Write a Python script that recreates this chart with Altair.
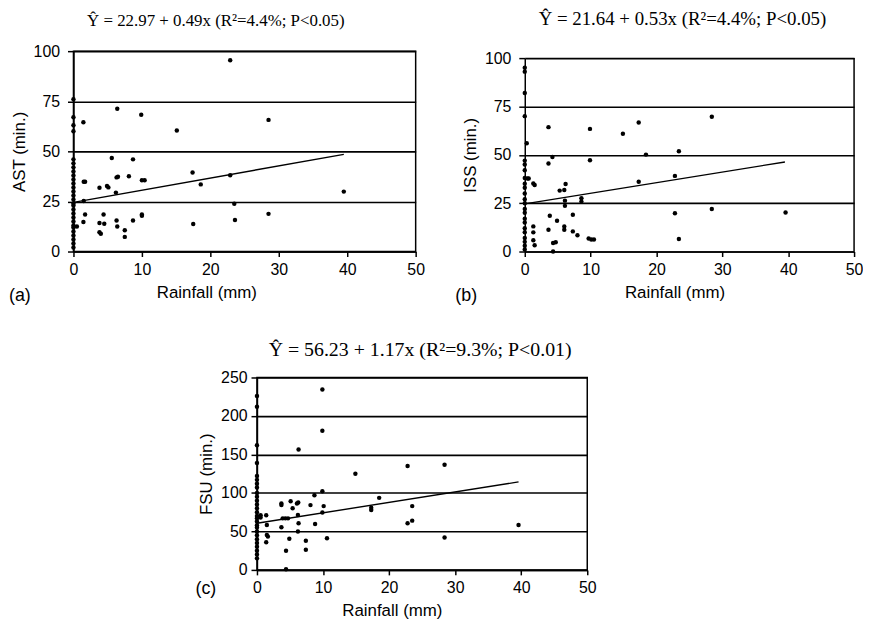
import altair as alt
import pandas as pd

RAIN_TICKS = [0, 10, 20, 30, 40, 50]

# ---------------- Panel (a): AST (min.) vs Rainfall (mm)
a_rain = [0, 0, 0, 0, 0, 0, 0, 0, 0, 0, 0, 0, 0, 0, 0, 0, 0, 0, 0, 0, 0, 0, 0, 0, 0, 0, 0, 0,
          1.45, 6.4, 9.9, 15.1, 5.6, 8.7, 1.5, 1.7, 3.8, 4.9, 5.1, 6.3, 6.5, 8.1, 10.0, 10.4,
          6.2, 17.4, 18.6, 1.5, 1.7, 1.45, 4.4, 3.8, 4.5, 3.8, 4.0, 6.3, 6.4, 7.5, 7.5, 8.7,
          10.0, 10.0, 17.5, 0.5, 22.9, 28.5, 22.9, 23.5, 23.6, 28.5, 39.5]
a_ast = [76, 67, 63, 60, 46, 44, 42, 40, 38, 36, 34, 32, 30, 28, 26, 24, 23, 21, 19, 17, 15, 13, 12, 10, 8, 6, 4, 2,
         64.5, 71.3, 68.3, 60.4, 46.7, 46.0, 34.8, 34.8, 31.8, 32.7, 32.0, 37.0, 37.3, 37.6, 35.6, 35.6,
         29.4, 39.4, 33.5, 25.2, 18.5, 14.7, 18.5, 14.2, 13.9, 9.6, 8.9, 15.5, 12.5, 10.6, 7.3, 15.5,
         18.5, 17.8, 13.7, 12.5, 95.5, 65.7, 38.1, 23.8, 15.7, 18.8, 29.9]
a_fit_x = [0, 39.5]
a_fit_y = [24.5, 48.5]

# ---------------- Panel (b): ISS (min.) vs Rainfall (mm)
b_rain = [0, 0, 0, 0, 0, 0, 0, 0, 0, 0, 0, 0, 0, 0, 0, 0, 0, 0, 0, 0, 0, 0, 0,
          0.3, 0.4, 0.6, 1.3, 1.5, 1.3, 1.3, 1.3, 1.5, 3.6, 3.6, 4.2, 3.8, 3.6, 4.3, 4.7, 4.3,
          4.9, 5.3, 6.0, 6.2, 6.0, 6.0, 6.1, 6.1, 7.3, 7.3, 8.0, 8.6, 8.6, 9.9, 9.9, 9.7, 10.1,
          10.5, 14.9, 17.3, 17.3, 18.4, 28.4, 23.4, 22.8, 22.8, 28.4, 23.4, 39.6]
b_iss = [95, 93, 82, 70, 47, 45, 42, 38, 35, 33, 30, 27, 25, 22, 20, 17, 15, 12, 10, 7, 5, 3, 1,
         56, 37.8, 37.8, 35.2, 34.4, 13, 9.9, 5.8, 3.2, 64.3, 45.5, 48.9, 18.5, 11.3, 4.4, 4.8, 0,
         15.9, 31.5, 31.8, 34.9, 13, 11.3, 23.6, 26.3, 19, 10.4, 8.4, 27.5, 25.8, 63.4, 47.2, 6.7, 6.2,
         6.2, 60.9, 66.7, 36.1, 50.1, 69.7, 51.8, 39.1, 19.8, 22, 6.5, 20.2]
b_fit_x = [0, 39.5]
b_fit_y = [24.6, 46.3]

# ---------------- Panel (c): FSU (min.) vs Rainfall (mm)
c_rain = [0, 0, 0, 0, 0, 0, 0, 0, 0, 0, 0, 0, 0, 0, 0, 0, 0, 0, 0, 0, 0, 0, 0, 0, 0, 0, 0,
          0.55, 0.55, 1.4, 1.5, 1.5, 1.65, 1.4, 3.7, 3.7, 3.9, 3.7, 4.4, 4.4, 4.3, 4.7, 4.9,
          5.1, 5.4, 6.05, 6.25, 6.2, 6.3, 6.3, 6.2, 7.4, 7.4, 8.1, 8.7, 8.8, 9.9, 9.9, 9.9,
          10.1, 9.9, 10.6, 14.9, 17.3, 17.3, 18.5, 22.8, 28.4, 23.5, 22.8, 23.5, 28.4, 39.6]
c_fsu = [226, 212, 162, 139, 122, 117, 112, 107, 100, 95, 90, 85, 80, 75, 70, 67, 63, 58, 55, 50, 45, 40, 35, 30, 25, 20, 15,
         71, 68, 71, 58.4, 45.5, 43.4, 36, 86.3, 84.2, 67, 55.4, 25, 0.9, 67, 67, 40.4,
         89.3, 80, 86.3, 87.6, 71.3, 156.4, 60.6, 49.8, 37.8, 26.2, 84.2, 97, 59.7, 234.5, 180.8, 102.2,
         82.9, 74.7, 41.2, 125, 80.8, 77.7, 93.6, 134.9, 136.6, 82.9, 60.6, 64, 42.1, 58.4]
c_fit_x = [0, 39.6]
c_fit_y = [60.6, 114.3]

titles = [
    "\u0176 = 22.97 + 0.49x (R\u00b2=4.4%; P<0.05)",
    "\u0176 = 21.64 + 0.53x (R\u00b2=4.4%; P<0.05)",
    "\u0176 = 56.23 + 1.17x (R\u00b2=9.3%; P<0.01)",
]

SANS = "Liberation Sans"
SERIF = "Liberation Serif"


def panel(rain, vals, fx, fy, ytitle, ymax, ystep, title, tag, w, h,
          title_size, title_dx, title_off, xtitle_x, ylab_pad, tag_x, tag_y,
          top_gap=0):
    df = pd.DataFrame({"Rainfall": rain, "Y": vals})
    fit = pd.DataFrame({"Rainfall": fx, "Y": fy})
    yvals = list(range(0, ymax + 1, ystep))
    xscale = alt.Scale(domain=[0, 50], nice=False, zero=False)
    if top_gap:
        yscale = alt.Scale(domain=[0, ymax], nice=False, range=[h, top_gap])
    else:
        yscale = alt.Scale(domain=[0, ymax], nice=False)
    xenc = alt.X("Rainfall:Q", scale=xscale,
                 axis=alt.Axis(values=RAIN_TICKS, tickCount=len(RAIN_TICKS) + 4,
                               title="Rainfall (mm)", grid=False,
                               tickSize=5, labelPadding=5, titlePadding=7,
                               labelFlush=False, labelOverlap=False,
                               titleX=xtitle_x, titleAlign="center"))
    yenc = alt.Y("Y:Q", scale=yscale,
                 axis=alt.Axis(values=yvals, tickCount=len(yvals) + 4, title=ytitle,
                               grid=True, gridColor="black", gridWidth=1.6, gridOpacity=1,
                               labelOverlap=False, labelFlush=False,
                               tickSize=6, labelPadding=ylab_pad, titlePadding=5))
    pts = alt.Chart(df).mark_circle(size=20, color="black", opacity=1).encode(x=xenc, y=yenc)
    line = alt.Chart(fit).mark_line(color="black", strokeWidth=1.4).encode(
        x="Rainfall:Q", y="Y:Q")
    lab = alt.Chart(pd.DataFrame({"t": [tag]})).mark_text(
        align="left", baseline="top", font=SANS, fontSize=18, color="black").encode(
        x=alt.value(tag_x), y=alt.value(tag_y), text="t:N")
    layers = [pts, line, lab]
    props = {}
    if top_gap:
        # right frame edge drawn from the data limits, since the view frame is taller
        edge = alt.Chart(pd.DataFrame({"x": [50], "y0": [0], "y1": [ymax]})).mark_rule(
            color="black", strokeWidth=1.5).encode(x="x:Q", y="y0:Q", y2="y1:Q")
        layers.append(edge)
        props["view"] = alt.ViewBackground(strokeOpacity=0)
    return alt.layer(*layers).properties(
        width=w, height=h,
        title=alt.TitleParams(title, font=SERIF, fontSize=title_size, fontWeight="normal",
                              color="black", dx=title_dx, offset=title_off,
                              anchor="middle", frame="group"),
        **props)


pa = panel(a_rain, a_ast, a_fit_x, a_fit_y, "AST (min.)", 100, 25, titles[0], "(a)",
           345, 202, 17, -29, 13, 134, 8, -65, 238)
pb = panel(b_rain, b_iss, b_fit_x, b_fit_y, "ISS (min.)", 100, 25, titles[1], "(b)",
           332, 202, 19, -7, 21, 151, 8, -70, 238, top_gap=7)
pc = panel(c_rain, c_fsu, c_fit_x, c_fit_y, "FSU (min.)", 250, 50, titles[2], "(c)",
           333, 194, 20, -2, 10, 136, 4, -62, 10 + 194)

spacer = alt.Chart(pd.DataFrame({"v": [0]})).mark_point(opacity=0).encode(
    x=alt.X("v:Q", axis=None), y=alt.Y("v:Q", axis=None)
).properties(width=122, height=10, view=alt.ViewBackground(strokeOpacity=0))

top = alt.hconcat(pa, pb, spacing=30)
bottom = alt.hconcat(spacer, pc, spacing=0)

chart = alt.vconcat(top, bottom, spacing=33).properties(
    padding={"left": 0, "top": 0, "right": 0, "bottom": 0},
    background="white",
).configure_view(
    stroke="black", strokeWidth=1.5
).configure_axis(
    domainColor="black", domainWidth=1.5, tickColor="black", tickWidth=1.5,
    labelFont=SANS, labelFontSize=16, labelColor="black",
    titleFont=SANS, titleFontSize=17, titleFontWeight="normal", titleColor="black"
)

chart.save("out.html", embed_options={"renderer": "svg", "actions": False})
